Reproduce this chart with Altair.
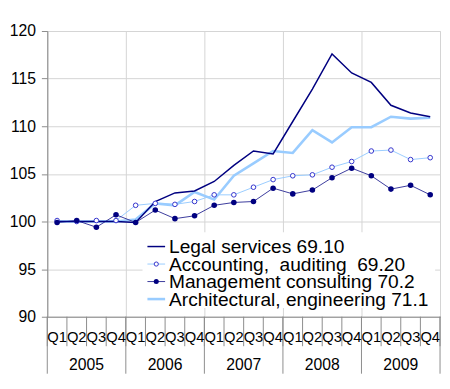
import altair as alt
import pandas as pd

# ---- data ----
years = ["2005", "2006", "2007", "2008", "2009"]
quarters = ["Q1", "Q2", "Q3", "Q4"]
series = [
    "Legal services 69.10",
    "Accounting,\u00a0\u00a0auditing\u00a0\u00a069.20",
    "Management consulting 70.2",
    "Architectural, engineering 71.1",
]
legal = [100.0, 100.0, 100.0, 100.0, 99.9, 102.1, 103.0, 103.2, 104.2, 105.9,
         107.4, 107.1, 110.5, 113.9, 117.6, 115.6, 114.6, 112.2, 111.4, 111.0]
accounting = [100.1, 100.0, 100.1, 100.1, 101.7, 101.9, 101.8, 102.1, 102.8, 102.8,
              103.6, 104.4, 104.8, 104.9, 105.7, 106.3, 107.4, 107.5, 106.5, 106.7]
management = [99.9, 100.1, 99.4, 100.7, 99.9, 101.2, 100.3, 100.6, 101.7, 102.0,
              102.1, 103.5, 102.9, 103.3, 104.6, 105.6, 104.8, 103.4, 103.8, 102.8]
architectural = [100.0, 100.0, 100.0, 100.0, 100.2, 101.9, 101.7, 103.1, 102.3, 104.8,
                 106.1, 107.4, 107.2, 109.6, 108.3, 109.9, 109.9, 111.0, 110.8, 110.9]
y_ticks = [90, 95, 100, 105, 110, 115, 120]

# ---- tables ----
values = [legal, accounting, management, architectural]
rows = []
for name, vals in zip(series, values):
    for i, v in enumerate(vals):
        rows.append({"series": name, "idx": i,
                     "quarter": quarters[i % 4], "year": years[i // 4], "value": v})
df = pd.DataFrame(rows)

qdf = pd.DataFrame({"idx": list(range(len(years) * 4)),
                    "q": [quarters[i % 4] for i in range(len(years) * 4)]})
bdf = pd.DataFrame({"b": list(range(len(years) * 4 + 1))})
ydf = pd.DataFrame({"y": list(range(len(years))), "year": years})
ybdf = pd.DataFrame({"b": [4 * i for i in range(len(years) + 1)]})
legdf = pd.DataFrame({"series": series})

W, H = 400, 291
NQ = len(years) * 4
FONT = "Liberation Sans"
GRID = "#d4d4d4"
AXC = "#8c8c8c"

colors = ["#000080", "#99ccff", "#3a3a9c", "#99ccff"]
widths = [1.5, 1.0, 1.0, 2.6]
draw_order = [3, 1, 2, 0]

xscale = alt.Scale(domain=[0, NQ], nice=False, zero=False)
yscale = alt.Scale(domain=[90, 120], nice=False, zero=False)

base = alt.Chart(df).transform_calculate(pos="datum.idx + 0.5")

X = alt.X("pos:Q", scale=xscale,
          axis=alt.Axis(values=list(range(0, NQ + 1, 2)), grid=True, gridColor=GRID,
                        labels=False, ticks=False, domainColor=AXC, title=None))
Y = alt.Y("value:Q", scale=yscale,
          axis=alt.Axis(values=y_ticks, grid=True, gridColor=GRID, domainColor=AXC,
                        tickColor=AXC, tickSize=6, labelFontSize=16, labelFont=FONT,
                        labelColor="black", labelPadding=6, title=None))

lines = [
    base.transform_filter(alt.datum.series == series[k]).mark_line(
        color=colors[k], strokeWidth=widths[k]).encode(x=X, y=Y)
    for k in draw_order
]

acc_pts = base.transform_filter(alt.datum.series == series[1]).mark_point(
    shape="circle", filled=True, fill="white", stroke="#3333cc", strokeWidth=1, size=22, opacity=1
).encode(x=X, y=Y)
mgmt_pts = base.transform_filter(alt.datum.series == series[2]).mark_circle(
    color="#000080", size=32, opacity=1
).encode(x=X, y=Y)

# x-axis decorations (quarter / year two-level axis)
qticks = alt.Chart(bdf).mark_rule(color=AXC, strokeWidth=1).encode(
    x=alt.X("b:Q", scale=xscale), y=alt.value(H), y2=alt.value(H + 30))
yticks = alt.Chart(ybdf).mark_rule(color=AXC, strokeWidth=1).encode(
    x=alt.X("b:Q", scale=xscale), y=alt.value(H), y2=alt.value(H + 58))
qlabels = alt.Chart(qdf).transform_calculate(pos="datum.idx + 0.5").mark_text(
    fontSize=15, font=FONT, color="black", baseline="middle", align="center"
).encode(x=alt.X("pos:Q", scale=xscale), y=alt.value(H + 21), text="q:N")
ylabels = alt.Chart(ydf).transform_calculate(pos="datum.y * 4 + 2").mark_text(
    fontSize=16, font=FONT, color="black", baseline="middle", align="center"
).encode(x=alt.X("pos:Q", scale=xscale), y=alt.value(H + 49), text="year:N")

main = alt.layer(*lines, acc_pts, mgmt_pts, qticks, yticks, qlabels, ylabels)

# legend
LY = alt.Y("series:N", sort=series, axis=None,
           scale=alt.Scale(type="point", domain=series, range=[219.5, 273], padding=0))
box = alt.Chart(pd.DataFrame({"k": [0]})).mark_rect(fill="white", stroke=None).encode(
    x=alt.value(97), x2=alt.value(395), y=alt.value(205), y2=alt.value(282))
leg_rules = [
    alt.Chart(legdf).transform_filter(alt.datum.series == series[k]).mark_rule(
        color=colors[k], strokeWidth=widths[k]).encode(
        x=alt.value(102), x2=alt.value(120), y=LY)
    for k in range(len(series))
]
leg_open = alt.Chart(legdf).transform_filter(alt.datum.series == series[1]).mark_point(
    shape="circle", filled=True, fill="white", stroke="#3333cc", strokeWidth=1, size=18, opacity=1
).encode(x=alt.value(111), y=LY)
leg_fill = alt.Chart(legdf).transform_filter(alt.datum.series == series[2]).mark_circle(
    color="#000080", size=26, opacity=1).encode(x=alt.value(111), y=LY)
leg_text = alt.Chart(legdf).mark_text(
    align="left", baseline="middle", fontSize=19.5, font=FONT, color="black", dy=1
).encode(x=alt.value(124), y=LY, text="series:N")
legend = alt.layer(box, *leg_rules, leg_open, leg_fill, leg_text)

chart = alt.layer(main, legend).resolve_scale(y="independent").properties(
    width=W, height=H,
    autosize=alt.AutoSizeParams(type="none"),
    padding={"left": 40, "top": 20, "right": 2, "bottom": 62},
).configure_view(stroke=None).configure(background="white")

chart.save("out.html", embed_options={"renderer": "svg", "actions": False})
